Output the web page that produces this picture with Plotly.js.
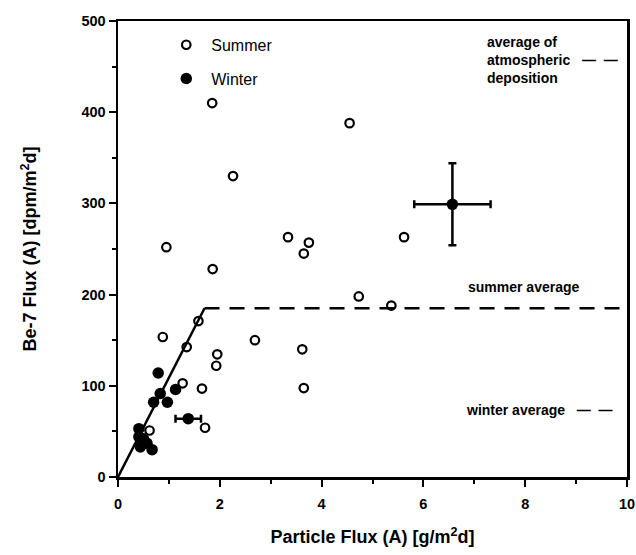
<!DOCTYPE html>
<html>
<head>
<meta charset="utf-8">
<script src="https://cdn.plot.ly/plotly-3.0.1.min.js"></script>
<style>body{margin:0;background:#fff}#chart{width:636px;height:555px}</style>
</head>
<body>
<div id="chart"></div>
<script>
// Summer (open circles)
const summerX = [1.85, 4.55, 2.26, 0.95, 1.86, 3.34, 3.75, 3.65, 0.88, 1.58, 2.69, 3.62, 1.95, 1.93, 1.27, 1.65, 0.62, 1.71, 1.35, 5.62, 4.73, 5.37, 3.65];
const summerY = [410, 388, 330, 252, 228, 263, 257, 245, 153.5, 171, 150, 140, 134.5, 122, 102.7, 97, 51, 54, 142.5, 263, 198, 188, 97.5];
// Winter (filled circles)
const winterX = [0.79, 0.83, 0.70, 0.97, 1.13, 0.41, 0.41, 0.44, 0.57, 0.67, 0.50];
const winterY = [114, 91.5, 82, 82, 96, 53, 44, 33, 37, 30, 42];
// Winter point with x error bar
const winterErrX = [1.38];
const winterErrY = [64];
const winterErrDX = [0.25];
// Mean of atmospheric deposition with error bars
const meanX = [6.57];
const meanY = [299];
const meanDX = [0.75];
const meanDY = [45];
// Model line
const lineX = [0, 1.7];
const lineY = [0, 185];
const plateauX = [1.7, 10];
const plateauY = [185, 185];

const FONT = 'Liberation Sans, Arial, sans-serif';

const traces = [
  {x: summerX, y: summerY, type: 'scatter', mode: 'markers', name: 'Summer', legendgroup: 'a',
   marker: {symbol: 'circle-open', size: 8.5, color: '#000', line: {width: 2.2, color: '#000'}}},
  {x: winterX, y: winterY, type: 'scatter', mode: 'markers', name: 'Winter', legendgroup: 'b',
   marker: {symbol: 'circle', size: 11.5, color: '#000'}},
  {x: winterErrX, y: winterErrY, type: 'scatter', mode: 'markers', showlegend: false,
   marker: {symbol: 'circle', size: 11.5, color: '#000'},
   error_x: {type: 'data', array: winterErrDX, visible: true, color: '#000', thickness: 2.5, width: 4}},
  {x: meanX, y: meanY, type: 'scatter', mode: 'markers', showlegend: false,
   marker: {symbol: 'circle', size: 11.5, color: '#000'},
   error_x: {type: 'data', array: meanDX, visible: true, color: '#000', thickness: 2.5, width: 4},
   error_y: {type: 'data', array: meanDY, visible: true, color: '#000', thickness: 2.5, width: 4}},
  {x: lineX, y: lineY, type: 'scatter', mode: 'lines', showlegend: false,
   line: {color: '#000', width: 2.5}},
  {x: plateauX, y: plateauY, type: 'scatter', mode: 'lines', showlegend: false,
   line: {color: '#000', width: 2.5, dash: '15px,10px'}}
];

const axisCommon = {
  showgrid: false, zeroline: false, showline: true, linecolor: '#000', linewidth: 2.5,
  mirror: true, ticks: 'outside', ticklen: 7, tickwidth: 2, tickcolor: '#000',
  tickfont: {family: FONT, size: 14.5, color: '#000', weight: 'bold'}
};

const layout = {
  width: 636, height: 555,
  margin: {l: 117.5, r: 9, t: 21, b: 78},
  paper_bgcolor: '#fff', plot_bgcolor: '#fff',
  font: {family: FONT, color: '#000'},
  xaxis: Object.assign({}, axisCommon, {
    range: [0, 10], dtick: 2, tick0: 0, ticklabelstandoff: 5,
    minor: {dtick: 1, ticks: 'outside', ticklen: 4, tickwidth: 2, tickcolor: '#000'},
    title: {text: 'Particle Flux (A) [g/m<sup>2</sup>d]', font: {family: FONT, size: 18, color: '#000', weight: 'bold'}, standoff: 20}
  }),
  yaxis: Object.assign({}, axisCommon, {
    range: [0, 500], dtick: 100, tick0: 0,
    minor: {dtick: 50, ticks: 'outside', ticklen: 4, tickwidth: 2, tickcolor: '#000'},
    title: {text: 'Be-7 Flux (A) [dpm/m<sup>2</sup>d]', font: {family: FONT, size: 18, color: '#000', weight: 'bold'}, standoff: 40}
  }),
  legend: {x: 0.085, y: 0.985, xanchor: 'left', yanchor: 'top', bgcolor: 'rgba(0,0,0,0)', itemwidth: 40,
    font: {family: FONT, size: 16, color: '#000'}, tracegroupgap: 10, traceorder: 'grouped'},
  annotations: [
    {xref: 'paper', yref: 'paper', x: 0.721, y: 0.976, xanchor: 'left', yanchor: 'top', align: 'left',
     showarrow: false, text: 'average of<br>atmospheric   —  —<br>deposition',
     font: {family: FONT, size: 14, color: '#000', weight: 'bold'}},
    {xref: 'x', yref: 'y', x: 7.97, y: 208, showarrow: false, text: 'summer average',
     font: {family: FONT, size: 14, color: '#000', weight: 'bold'}},
    {xref: 'x', yref: 'y', x: 6.8, y: 73, xanchor: 'left', showarrow: false, text: 'winter average   —  —',
     font: {family: FONT, size: 14, color: '#000', weight: 'bold'}}
  ]
};

Plotly.newPlot('chart', traces, layout, {displayModeBar: false, staticPlot: true});
</script>
</body>
</html>
